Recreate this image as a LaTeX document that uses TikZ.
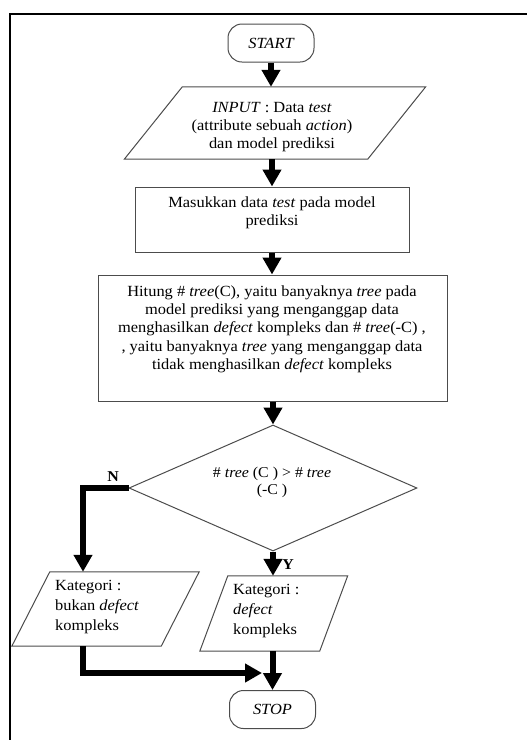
\documentclass[tikz,border=0pt]{standalone}
\usepackage{fontspec}
\setmainfont{Liberation Serif}[FakeStretch=1.06]
\usetikzlibrary{arrows.meta,shapes.geometric,calc}
\begin{document}
\begin{tikzpicture}[x=1pt,y=-1pt,
  shp/.style={draw=black!70, line width=1pt},
  term/.style={shp, rounded corners=14pt, minimum width=86pt, minimum height=38pt, inner sep=0pt, font=\fontsize{15.5}{18.3}\selectfont\itshape},
  box/.style={shp, inner sep=0pt},
  ghost/.style={inner sep=0pt},
  txt/.style={align=center, font=\fontsize{15.5}{18.3}\selectfont, inner sep=0pt},
  ltxt/.style={align=left, font=\fontsize{15.5}{20}\selectfont, inner sep=0pt},
  arr/.style={line width=6pt, -{Triangle[width=18pt,length=17pt]}},
  yn/.style={font=\fontsize{15}{15}\selectfont\bfseries, inner sep=0pt}
]
\useasboundingbox (0,0) rectangle (527,740);
\draw[line width=2pt] (10,740) -- (10,14) -- (527,14);

% start
\node[term] (start) at (271,43) {START};

% input parallelogram
\node[ghost, minimum width=243pt, minimum height=72pt] (input) at (275,123) {};
\draw[shp] ([xshift=29pt]input.north west) -- ([xshift=29pt]input.north east)
  -- ([xshift=-29pt]input.south east) -- ([xshift=-29pt]input.south west) -- cycle;
\node[txt] (inputtxt) at (272,127) {\textit{INPUT} : Data \textit{test}\\(attribute sebuah \textit{action})\\dan model prediksi};

% masukkan
\node[box, minimum width=274pt, minimum height=65pt] (masuk) at (272,219.5) {};
\node[txt] (masuktxt) at (272,213) {Masukkan data \textit{test} pada model\\prediksi};

% hitung
\node[box, minimum width=349pt, minimum height=126pt] (hitung) at (272.5,338) {};
\node[txt] (hitungtxt) at (272,329) {Hitung \# \textit{tree}(C), yaitu banyaknya \textit{tree} pada\\model prediksi yang menganggap data\\menghasilkan \textit{defect} kompleks dan \# \textit{tree}(-C) ,\\, yaitu banyaknya \textit{tree} yang menganggap data\\tidak menghasilkan \textit{defect} kompleks};

% decision
\node[shp, diamond, minimum width=288pt, minimum height=126pt, inner sep=0pt] (dia) at (273,488) {};
\node[txt, font=\fontsize{15}{17}\selectfont] (diatxt) at (272,482.5) {\# \textit{tree} (C ) > \# \textit{tree}\\(-C )};

% left output
\node[ghost, minimum width=149pt, minimum height=74pt] (kl) at (105.5,609) {};
\draw[shp] ([xshift=19pt]kl.north west) -- ([xshift=19pt]kl.north east)
  -- ([xshift=-19pt]kl.south east) -- ([xshift=-19pt]kl.south west) -- cycle;
\node[ltxt, anchor=west] (kltxt) at (55,607) {Kategori :\\bukan \textit{defect}\\kompleks};

% right output
\node[ghost, minimum width=119.5pt, minimum height=75pt] (kr) at (273.75,613.5) {};
\draw[shp] ([xshift=14pt]kr.north west) -- ([xshift=14pt]kr.north east)
  -- ([xshift=-14pt]kr.south east) -- ([xshift=-14pt]kr.south west) -- cycle;
\node[ltxt, anchor=west] (krtxt) at (233,611) {Kategori :\\\textit{defect}\\kompleks};

% stop
\node[term] (stop) at (272.5,709.5) {STOP};

% connectors
\draw[arr] (start.south) -- (start.south |- input.north);
\draw[arr] (masuk.north |- input.south) -- (masuk.north);
\draw[arr] (masuk.south) -- (masuk.south |- hitung.north);
\draw[arr] (dia.north |- hitung.south) -- (dia.north);
\draw[arr] (dia.west) -| ([xshift=-22.5pt]kl.north);
\draw[arr] (dia.south) -- (dia.south |- kr.north);
\draw[arr] (stop.north |- kr.south) -- (stop.north);
\coordinate (lj) at (262,673);
\draw[arr] ([xshift=-22.5pt]kl.south) |- (lj);

% labels
\node[yn] (nlab) at (113,477) {N};
\node[yn] (ylab) at (288,565) {Y};
\end{tikzpicture}
\end{document}
